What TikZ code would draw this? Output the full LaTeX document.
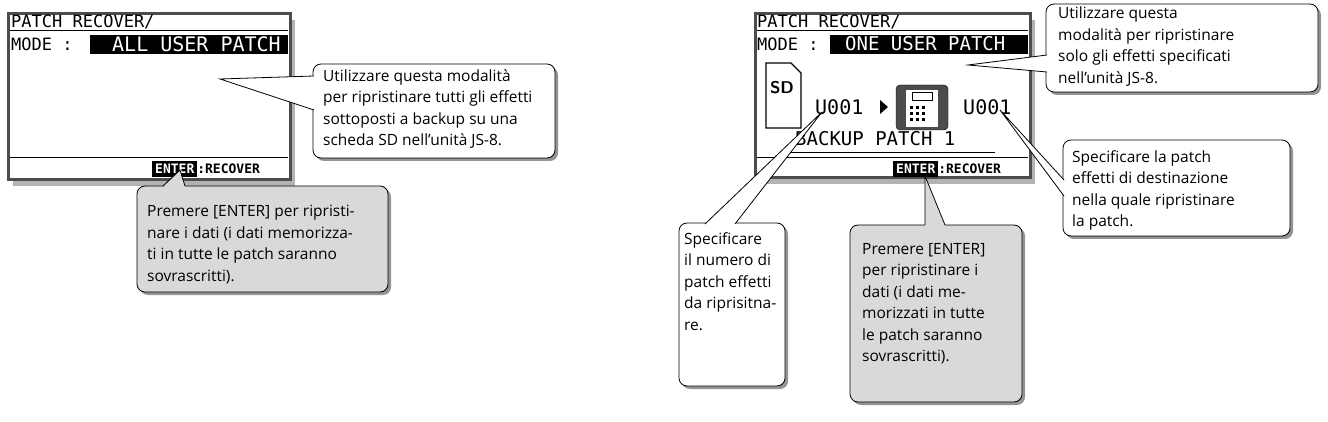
\documentclass[tikz,border=0pt]{standalone}
\usepackage{fontspec}
\setmainfont{Open Sans}
\newfontfamily\lcd{DejaVu Sans Mono}
\usetikzlibrary{shadows}
\begin{document}
\begin{tikzpicture}[x=1pt,y=-1pt,
  lcdbox/.style={draw=black!70,line width=3pt,fill=white,drop shadow={shadow xshift=5pt,shadow yshift=-6pt,opacity=.6}},
  call/.style={draw,line width=0.8pt,rounded corners=8pt,drop shadow={shadow xshift=3pt,shadow yshift=-3pt,opacity=.7,fill=black!60}},
  ctext/.style={anchor=north west,align=left,font=\fontsize{15.5}{21.5}\selectfont,inner sep=0pt},
  lt/.style={anchor=west,inner sep=0pt,font=\lcd\fontsize{17}{17}\selectfont},
  ptr/.style={draw,line width=0.8pt}]
\useasboundingbox (0,0) rectangle (1328,422);
% ---------- left LCD
\draw[lcdbox] (8,14) rectangle (290,180);
\node[lt] (l1) at (11,22) {PATCH RECOVER/};
\draw[line width=1pt] (10,31) -- (288,31);
\node[lt] (l2) at (11,44) {MODE :};
\fill (90,35) rectangle (288,54);
\node[lt,text=white,font=\lcd\fontsize{20}{20}\selectfont] (l3) at (112,44) {ALL USER PATCH};
\draw[line width=1pt] (10,158) -- (288,158);
\node[lt,font=\lcd\bfseries\fontsize{13}{13}\selectfont] (l4) at (152,169) {\colorbox{black}{\textcolor{white}{ENTER}}:RECOVER};
% left callout 1
\filldraw[call,fill=white] (313,64) rectangle (555,158);
\filldraw[fill=white,draw=none] (314,76) -- (220,79) -- (314,110) -- cycle;
\draw[ptr] (314,76) -- (220,79) -- (314,110);
\node[ctext] (t1) at (323,69) {Utilizzare questa modalità\\per ripristinare tutti gli effetti\\sottoposti a backup su una\\scheda SD nell'unità JS-8.};
% left callout 2
\filldraw[call,fill=black!15] (137,186) rectangle (388,292);
\fill[black!15] (163,187) -- (180,170) -- (185,187) -- cycle;
\draw[ptr] (163,186) -- (180,170) -- (185,186);
\node[ctext] (t2) at (147,205) {Premere [ENTER] per ripristi-\\nare i dati (i dati memorizza-\\ti in tutte le patch saranno\\sovrascritti).};
% ---------- right LCD
\draw[lcdbox] (755,14) rectangle (1030,178);
\node[lt] (r1) at (757,22) {PATCH RECOVER/};
\draw[line width=1pt] (757,31) -- (1028,31);
\node[lt] (r2) at (757,44) {MODE :};
\fill (830,35) rectangle (1028,54);
\node[lt,text=white,font=\lcd\fontsize{19}{19}\selectfont] (r3) at (845,44) {ONE USER PATCH};
\draw[line width=1.2pt,fill=white] (766,63) -- (791,63) -- (801,73) -- (801,128) -- (766,128) -- cycle;
\node[font=\sffamily\bfseries\fontsize{17}{17}\selectfont] (sd) at (782,88) {SD};
\node[lt,font=\lcd\fontsize{20}{20}\selectfont] (r4) at (815,107) {U001};
\fill (880,100) -- (888,107) -- (880,114) -- cycle;
\filldraw[fill=black!70,rounded corners=4pt] (896,85) rectangle (948,130);
\fill[white] (906,90) rectangle (938,127);
\draw[fill=white] (912,92) rectangle (932,100);
\foreach \i in {0,1,2} \foreach \j in {0,1,2} \fill (910+\i*6,106+\j*6) rectangle (913+\i*6,109+\j*6);
\node[lt,font=\lcd\fontsize{20}{20}\selectfont] (r5) at (963,107) {U001};
\node[lt,font=\lcd\fontsize{19}{19}\selectfont] (r6) at (795,139) {BACKUP PATCH 1};
\draw[line width=1pt] (790,153) -- (995,153);
\draw[line width=1pt] (757,158) -- (1028,158);
\node[lt,font=\lcd\bfseries\fontsize{13}{13}\selectfont] (r7) at (893,169) {\colorbox{black}{\textcolor{white}{ENTER}}:RECOVER};
% top right callout
\filldraw[call,fill=white] (1046,4) rectangle (1318,92);
\filldraw[fill=white,draw=none] (1047,55) -- (968,65) -- (1047,72) -- cycle;
\draw[ptr] (1047,55) -- (968,65) -- (1047,72);
\node[ctext] (t3) at (1058,7) {Utilizzare questa\\modalità per ripristinare\\solo gli effetti specificati\\nell'unità JS-8.};
% right callout
\filldraw[call,fill=white] (1063,140) rectangle (1290,236);
\filldraw[fill=white,draw=none] (1064,180) -- (1000,110) -- (1064,196) -- cycle;
\draw[ptr] (1064,180) -- (1000,110) -- (1064,196);
\node[ctext] (t4) at (1072,150) {Specificare la patch\\effetti di destinazione\\nella quale ripristinare\\la patch.};
% bottom white callout
\filldraw[call,fill=white] (679,223) rectangle (785,386);
\filldraw[fill=white,draw=none] (705,224) -- (822,112) -- (735,224) -- cycle;
\draw[ptr] (705,224) -- (822,112) -- (735,224);
\node[ctext] (t5) at (684,232) {Specificare\\il numero di\\patch effetti\\da riprisitna-\\re.};
% bottom gray callout
\filldraw[call,fill=black!15] (850,225) rectangle (1022,402);
\fill[black!15] (925,226) -- (925,176) -- (945,226) -- cycle;
\draw[ptr] (925,225) -- (925,176) -- (945,225);
\node[ctext] (t6) at (862,243) {Premere [ENTER]\\per ripristinare i\\dati (i dati me-\\morizzati in tutte\\le patch saranno\\sovrascritti).};
\end{tikzpicture}
\end{document}
